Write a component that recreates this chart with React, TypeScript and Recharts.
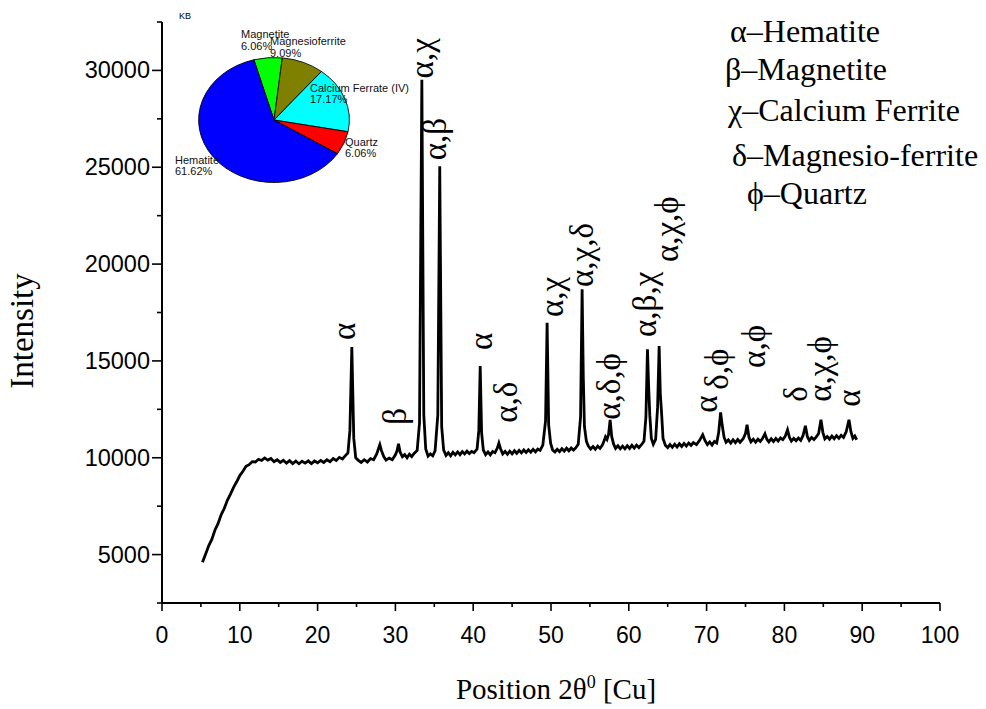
import { LineChart, Line, XAxis, YAxis, ReferenceDot, PieChart, Pie, Cell } from 'recharts'

// XRD pattern: [2theta, intensity]
const pattern: [number, number][] = [
  [5.2, 4600], [5.6, 5020], [6.0, 5450], [6.4, 5780], [6.8, 6260], [7.2, 6600], [7.6, 7050], [8.0, 7380],
  [8.4, 7800], [8.8, 8120], [9.2, 8470], [9.6, 8760], [10.0, 9080], [10.4, 9300], [10.8, 9560], [11.2, 9640],
  [11.6, 9800], [12.0, 9780], [12.4, 9920], [12.8, 9860], [13.2, 9990], [13.6, 9880], [14.0, 9960], [14.4, 9800],
  [14.8, 9900], [15.2, 9760], [15.6, 9870], [16.0, 9720], [16.4, 9850], [16.8, 9700], [17.2, 9830], [17.6, 9690],
  [18.0, 9820], [18.4, 9720], [18.8, 9840], [19.2, 9700], [19.6, 9830], [20.0, 9740], [20.4, 9860], [20.8, 9760],
  [21.2, 9900], [21.6, 9800], [22.0, 9960], [22.4, 9860], [22.8, 10020], [23.2, 9940], [23.6, 10120], [23.9, 10250],
  [24.15, 11400], [24.4, 15720], [24.65, 11000], [24.9, 10000], [25.2, 9880], [25.6, 9760], [26.0, 9900], [26.4, 9780],
  [26.8, 9960], [27.2, 9900], [27.6, 10200], [27.85, 10500], [28.0, 10670], [28.2, 10380], [28.5, 10060], [28.8, 9880],
  [29.2, 9980], [29.6, 9900], [30.0, 10150], [30.2, 10350], [30.4, 10720], [30.6, 10300], [30.9, 10050], [31.2, 10160],
  [31.5, 10000], [31.8, 10180], [32.1, 10060], [32.4, 10220], [32.8, 10380], [33.1, 11800], [33.4, 29520], [33.65, 12200],
  [33.9, 10450], [34.2, 10080], [34.5, 10200], [34.8, 10100], [35.1, 10350], [35.45, 12200], [35.7, 25050], [35.95, 11600],
  [36.2, 10400], [36.5, 10120], [36.8, 10260], [37.1, 10100], [37.4, 10280], [37.7, 10150], [38.0, 10300], [38.3, 10160],
  [38.6, 10320], [38.9, 10200], [39.2, 10340], [39.5, 10220], [39.8, 10330], [40.1, 10260], [40.5, 10450], [40.72, 11400],
  [40.9, 14740], [41.08, 11300], [41.3, 10400], [41.6, 10160], [41.9, 10300], [42.2, 10150], [42.5, 10320], [42.8, 10260],
  [43.1, 10500], [43.3, 10760], [43.5, 10480], [43.8, 10200], [44.1, 10330], [44.4, 10180], [44.7, 10340], [45.0, 10200],
  [45.3, 10360], [45.6, 10230], [45.9, 10380], [46.2, 10250], [46.5, 10400], [46.8, 10270], [47.1, 10410], [47.4, 10290],
  [47.7, 10430], [48.0, 10300], [48.3, 10450], [48.6, 10380], [48.95, 10650], [49.3, 11900], [49.5, 16975], [49.7, 11700],
  [49.95, 10750], [50.2, 10400], [50.5, 10300], [50.8, 10440], [51.1, 10320], [51.4, 10470], [51.7, 10340], [52.0, 10490],
  [52.3, 10360], [52.6, 10500], [52.9, 10400], [53.2, 10520], [53.5, 10700], [53.8, 12100], [54.0, 18700], [54.15, 14200],
  [54.3, 11600], [54.55, 10850], [54.8, 10600], [55.1, 10450], [55.4, 10580], [55.7, 10440], [56.0, 10600], [56.3, 10480],
  [56.6, 10650], [56.85, 10900], [57.0, 11080], [57.2, 10950], [57.4, 11200], [57.6, 11960], [57.8, 11100], [58.05, 10700],
  [58.3, 10480], [58.6, 10620], [58.9, 10460], [59.2, 10600], [59.5, 10460], [59.8, 10620], [60.1, 10480], [60.4, 10640],
  [60.7, 10500], [61.0, 10650], [61.3, 10520], [61.6, 10660], [61.95, 10850], [62.2, 12100], [62.4, 15600], [62.55, 13680],
  [62.7, 12200], [62.9, 11000], [63.15, 10700], [63.45, 10950], [63.7, 12600], [63.9, 15770], [64.05, 13300], [64.2, 12400],
  [64.4, 11000], [64.7, 10650], [65.0, 10520], [65.3, 10680], [65.6, 10540], [65.9, 10700], [66.2, 10560], [66.5, 10720],
  [66.8, 10580], [67.1, 10740], [67.4, 10600], [67.7, 10760], [68.0, 10640], [68.3, 10780], [68.7, 10680], [69.1, 10900],
  [69.5, 11190], [69.8, 10880], [70.1, 10680], [70.4, 10820], [70.7, 10660], [71.0, 10840], [71.3, 10760], [71.55, 11300],
  [71.8, 12340], [72.0, 11700], [72.25, 11050], [72.5, 10800], [72.8, 10920], [73.1, 10760], [73.4, 10930], [73.7, 10780],
  [74.0, 10940], [74.3, 10800], [74.7, 10980], [75.0, 11250], [75.2, 11700], [75.45, 11050], [75.7, 10820], [76.0, 10960],
  [76.3, 10800], [76.6, 10960], [76.9, 10840], [77.2, 11000], [77.5, 11240], [77.75, 10950], [78.0, 10820], [78.3, 10980],
  [78.6, 10840], [78.9, 11000], [79.2, 10860], [79.5, 11020], [79.8, 10940], [80.1, 11100], [80.4, 11440], [80.65, 11050],
  [80.9, 10860], [81.2, 11000], [81.5, 10880], [81.8, 11020], [82.1, 10900], [82.4, 11150], [82.7, 11650], [82.95, 11100],
  [83.2, 10900], [83.5, 11050], [83.8, 10940], [84.1, 11080], [84.4, 11250], [84.7, 11960], [84.95, 11300], [85.2, 10980],
  [85.5, 11100], [85.8, 10960], [86.1, 11120], [86.4, 10980], [86.7, 11140], [87.0, 11000], [87.3, 11160], [87.6, 11050],
  [87.95, 11350], [88.3, 11960], [88.55, 11350], [88.8, 11000], [89.05, 11120], [89.3, 10930],
]

const xTicks = [0, 5, 10, 15, 20, 25, 30, 35, 40, 45, 50, 55, 60, 65, 70, 75, 80, 85, 90, 95, 100]
const yTicks = [2500, 5000, 7500, 10000, 12500, 15000, 17500, 20000, 22500, 25000, 27500, 30000, 32500]

// phase annotations above the peaks: label start (2theta of text baseline, intensity of text start)
const peakLabels = [
  { theta: 24.81, at: 16083, text: 'α' },
  { theta: 31.36, at: 11701, text: 'β' },
  { theta: 34.83, at: 29589, text: 'α,χ' },
  { theta: 36.5, at: 25362, text: 'α,β' },
  { theta: 42.42, at: 15567, text: 'α' },
  { theta: 45.63, at: 11804, text: 'α,δ' },
  { theta: 51.54, at: 17269, text: 'α,χ' },
  { theta: 55.4, at: 18815, text: 'α,χ,δ' },
  { theta: 58.87, at: 11959, text: 'α,δ,ϕ' },
  { theta: 63.5, at: 16238, text: 'α,β,χ' },
  { theta: 66.32, at: 20104, text: 'α,χ,ϕ' },
  { theta: 71.34, at: 12320, text: 'α' },
  { theta: 72.75, at: 13505, text: 'δ,ϕ' },
  { theta: 77.51, at: 14639, text: 'α,ϕ' },
  { theta: 82.9, at: 12887, text: 'δ' },
  { theta: 85.99, at: 12887, text: 'α,χ,ϕ' },
  { theta: 89.72, at: 12629, text: 'α' },
]

const phaseNames = ['Magnetite', 'Magnesioferrite', 'Calcium Ferrate (IV)', 'Quartz', 'Hematite']
const phaseShares = [6.06, 9.09, 17.17, 6.06, 61.62]
const phaseColors = ['#00ff00', '#808000', '#00ffff', '#ff0000', '#0000ff']

const legendLines = ['α–Hematite', 'β–Magnetite', 'χ–Calcium Ferrite', 'δ–Magnesio-ferrite', 'ϕ–Quartz']
const legendX = [730, 725, 728, 732, 747]
const legendY = [42, 80, 121, 166, 204]

const SERIF = '"Liberation Serif", "Times New Roman", serif'
const SANS = '"Liberation Sans", Arial, sans-serif'

// pie inset is drawn as a circle and stretched into the ellipse of the original
const PIE_STRETCH = 1.206
const PIE_CX = 130
const PIE_CY = 100
// label start offsets from the pie centre, in screen pixels
const pieLabelOffsets = [
  [-33, -82],
  [-4, -75],
  [36, -28.5],
  [71, 25.5],
  [-99, 43.5],
]

const XTick = (props: any) => {
  const { x, y, payload } = props
  const major = payload.value % 10 === 0
  return (
    <g>
      <line x1={x} x2={x} y1={y} y2={y + (major ? 8 : 4)} stroke='#000' strokeWidth={1.6} />
      {major && (
        <text x={x} y={y + 40} textAnchor='middle' fontFamily={SANS} fontSize={23} fill='#000'>
          {payload.value}
        </text>
      )}
    </g>
  )
}

const YTick = (props: any) => {
  const { x, y, payload } = props
  const v = payload.value
  const major = v % 5000 === 0
  return (
    <g>
      <line x1={x - (major ? 10 : 5)} x2={x} y1={y} y2={y} stroke='#000' strokeWidth={1.6} />
      {major && v >= 5000 && v <= 30000 && (
        <text x={x - 12} y={y + 8} textAnchor='end' fontFamily={SANS} fontSize={23.5} fill='#000'>
          {v}
        </text>
      )}
    </g>
  )
}

const renderPieLabel = (props: any) => {
  const { cx, cy, index, name, value } = props
  const [dx, dy] = pieLabelOffsets[index]
  return (
    <g transform={`translate(${cx + dx / PIE_STRETCH},${cy + dy}) scale(${1 / PIE_STRETCH},1)`}>
      <text fontFamily={SANS} fontSize={11} fill='#111'>
        <tspan x={0} y={0}>{name}</tspan>
        <tspan x={0} y={11.5}>{value.toFixed(2)}%</tspan>
      </text>
    </g>
  )
}

export default function App() {
  const data = pattern.map(([theta, counts]) => ({ theta, counts }))
  const shares = phaseNames.map((name, i) => ({ name, value: phaseShares[i] }))

  return (
    <div style={{ position: 'absolute', left: 0, top: 0, width: 986, height: 709, background: '#fff' }}>
      <LineChart width={986} height={709} data={data} margin={{ top: 22, right: 46, bottom: 66, left: 82 }}>
        <XAxis
          dataKey='theta'
          type='number'
          domain={[0, 100]}
          ticks={xTicks}
          interval={0}
          tickSize={0}
          tickMargin={0}
          tickLine={false}
          tick={<XTick />}
          axisLine={{ stroke: '#000', strokeWidth: 2 }}
          height={40}
          label={{
            content: () => (
              <text x={556} y={699} textAnchor='middle' fontFamily={SERIF} fontSize={29} fill='#000'>
                Position 2θ<tspan dy={-11} fontSize={18}>0</tspan>
                <tspan dy={11}> [Cu]</tspan>
              </text>
            ),
          }}
        />
        <YAxis
          type='number'
          domain={[2500, 32500]}
          ticks={yTicks}
          interval={0}
          tickSize={0}
          tickMargin={0}
          tickLine={false}
          tick={<YTick />}
          axisLine={{ stroke: '#000', strokeWidth: 2 }}
          width={80}
          label={{
            content: () => (
              <text
                transform='translate(33,331) rotate(-90)'
                textAnchor='middle'
                fontFamily={SERIF}
                fontSize={33}
                fill='#000'
              >
                Intensity
              </text>
            ),
          }}
        />
        <Line
          type='linear'
          dataKey='counts'
          stroke='#000'
          strokeWidth={2.8}
          dot={false}
          isAnimationActive={false}
        />
        {peakLabels.map((p, i) => (
          <ReferenceDot
            key={i}
            x={p.theta}
            y={p.at}
            r={0}
            ifOverflow='visible'
            shape={(s: any) => (
              <text
                transform={`translate(${s.cx},${s.cy}) rotate(-90)`}
                fontFamily={SERIF}
                fontSize={33}
                fill='#000'
              >
                {p.text}
              </text>
            )}
          />
        ))}
      </LineChart>

      <div
        style={{
          position: 'absolute',
          left: 274 - PIE_CX,
          top: 120 - PIE_CY,
          transform: `scaleX(${PIE_STRETCH})`,
          transformOrigin: `${PIE_CX}px ${PIE_CY}px`,
        }}
      >
        <PieChart width={260} height={190} margin={{ top: 0, right: 0, bottom: 0, left: 0 }}>
          <Pie
            data={shares}
            dataKey='value'
            nameKey='name'
            cx={PIE_CX}
            cy={PIE_CY}
            outerRadius={62.5}
            startAngle={105.5}
            endAngle={-254.5}
            stroke='#000'
            strokeWidth={0.8}
            labelLine={false}
            label={renderPieLabel}
            isAnimationActive={false}
          >
            {shares.map((s, i) => (
              <Cell key={s.name} fill={phaseColors[i]} />
            ))}
          </Pie>
        </PieChart>
      </div>

      <div style={{ position: 'absolute', left: 179, top: 12, fontFamily: SANS, fontSize: 9, lineHeight: 1 }}>KB</div>

      <svg width={986} height={709} style={{ position: 'absolute', left: 0, top: 0, pointerEvents: 'none' }}>
        {legendLines.map((t, i) => (
          <text key={t} x={legendX[i]} y={legendY[i]} fontFamily={SERIF} fontSize={32} fill='#000'>
            {t}
          </text>
        ))}
      </svg>
    </div>
  )
}
